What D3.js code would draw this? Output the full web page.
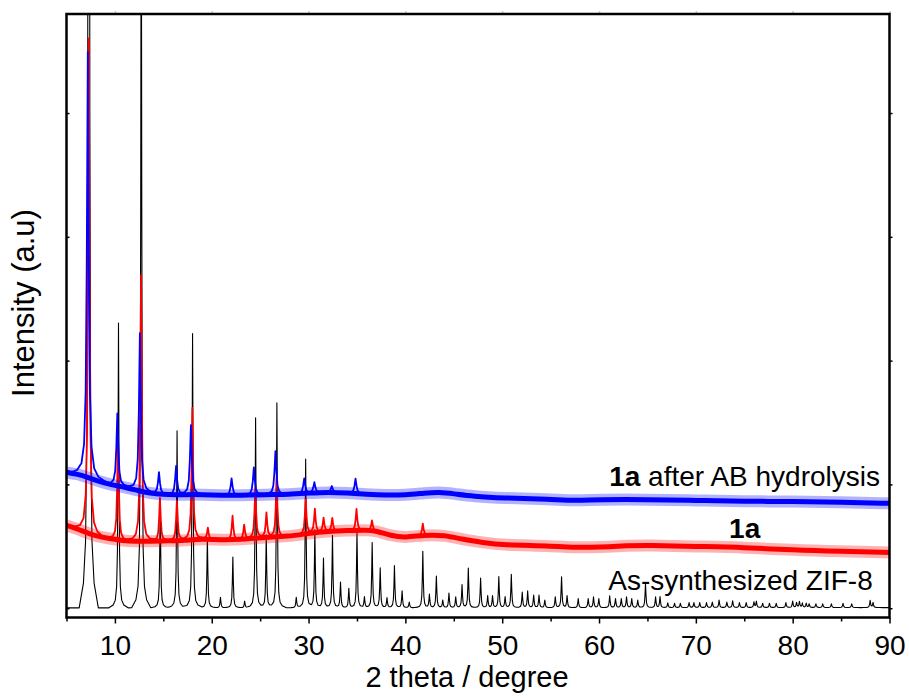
<!DOCTYPE html>
<html>
<head>
<meta charset="utf-8">
<script src="https://cdn.jsdelivr.net/npm/d3@7"></script>
<style>
  body { margin: 0; background: #fff; }
  text { font-family: Arial, "Liberation Sans", sans-serif; fill: #000; }
</style>
</head>
<body>
<div id="chart"></div>
<script>
// axis values
var xTicks = [10, 20, 30, 40, 50, 60, 70, 80, 90];
var xMinorTicks = [5, 15, 25, 35, 45, 55, 65, 75, 85];
var yTicks = [0, 1000, 2000, 3000, 4000];

// As-synthesized ZIF-8 : flat baseline + [2theta, height]
var zifBase = [[5, 3], [90, 5]];
var zifPeaks = [
  [7.30, 20000], [10.37, 2300], [12.72, 6500], [14.68, 870], [16.42, 1430],
  [18.02, 2215], [19.55, 565], [20.90, 85], [22.18, 410], [23.40, 55],
  [24.53, 1535], [25.63, 590], [26.73, 1655], [28.73, 85], [29.70, 1200],
  [30.65, 630], [31.54, 400], [32.47, 585], [33.30, 205], [34.16, 155],
  [35.00, 615], [35.77, 85], [36.57, 525], [37.40, 320], [38.10, 78],
  [38.87, 340], [39.66, 135], [40.40, 45], [41.80, 455], [42.48, 105],
  [43.20, 255], [43.86, 60], [44.50, 118], [45.20, 86], [45.85, 185],
  [46.50, 320], [47.77, 240], [48.50, 95], [49.00, 95], [49.65, 250],
  [50.30, 86], [50.94, 270], [52.07, 125], [52.63, 135], [53.25, 100],
  [53.80, 100], [54.40, 60], [55.48, 86], [56.13, 248], [56.70, 95],
  [57.85, 73], [58.88, 73], [59.43, 86], [59.98, 73], [61.10, 95],
  [61.70, 73], [62.30, 73], [62.84, 86], [63.38, 73], [64.00, 60],
  [64.80, 195], [65.84, 86], [66.30, 88], [67.10, 38], [67.80, 35],
  [68.40, 35], [69.30, 40], [69.80, 40], [70.40, 40], [71.10, 40],
  [71.70, 45], [72.40, 60], [73.20, 45], [73.80, 55], [74.50, 40],
  [75.20, 40], [76.00, 45], [76.25, 50], [76.90, 35], [77.60, 35],
  [78.30, 35], [79.30, 40], [80.00, 52], [80.40, 40], [80.70, 48],
  [81.00, 35], [81.40, 35], [81.70, 30], [82.40, 30], [83.10, 30],
  [84.00, 30], [85.20, 35], [86.10, 30], [88.00, 57], [88.30, 40]
];

// 1a : background curve + peaks
var aBase = [
  [5, 669], [6, 645], [8, 580], [9.5, 564], [10.8, 545], [12.2, 540],
  [13.5, 540], [15.5, 545], [17.2, 548], [19, 560], [21, 552], [23, 556],
  [25, 570], [28, 580], [30, 605], [32, 622], [34, 628], [36, 632],
  [37, 625], [38.5, 585], [40, 570], [42, 592], [44, 590], [46, 555],
  [48, 531], [50, 510], [55, 505], [57.5, 490], [60, 493], [63, 505],
  [65, 510], [70, 499], [75, 491], [80, 470], [85, 459], [90, 451]
];
var aPeaks = [
  [7.30, 4000], [10.32, 845], [12.70, 2150], [14.65, 348], [16.40, 323],
  [18.00, 1064], [19.60, 93], [22.15, 192], [23.35, 113], [24.50, 403],
  [25.65, 196], [26.70, 477], [29.70, 283], [30.65, 190], [31.55, 110],
  [32.45, 105], [34.95, 172], [36.55, 81], [41.80, 94]
];

// 1a after AB hydrolysis : background curve + peaks
var abBase = [
  [5, 1098], [5.8, 1085], [6.4, 1080], [8, 1033], [9.5, 1000], [10, 993],
  [11.5, 968], [12.3, 952], [13.5, 930], [15.5, 915], [17.5, 918],
  [19, 918], [21, 912], [23, 912], [25.5, 918], [28, 920], [30, 930],
  [32, 938], [34, 932], [36, 920], [38, 912], [40, 915], [42, 930],
  [43.5, 938], [45, 925], [47, 904], [50, 890], [55, 880], [57.5, 868],
  [60, 878], [65, 878], [70, 871], [75, 863], [80, 863], [85, 855], [90, 847]
];
var abPeaks = [
  [7.20, 3438], [10.25, 585], [12.58, 1275], [14.55, 176], [16.32, 230],
  [17.85, 560], [22.05, 137], [24.35, 223], [26.58, 350], [29.55, 120],
  [30.60, 85], [32.40, 50], [34.85, 120]
];

var width = 909, height = 699;
var margin = {left: 66.5, top: 14, right: 19.5, bottom: 81.5};

var x = d3.scaleLinear().domain([5, 90]).range([margin.left, width - margin.right]);
var y = d3.scaleLinear().domain([-75, 4800]).range([height - margin.bottom, margin.top]);

// peak outline (lorentz-like), offsets in units of the series width
var steps = [0, 1, 2, 3.5, 6, 10, 18];
var shape = [1, 0.5, 0.2, 0.075, 0.027, 0.01, 0];

function buildTrace(base, peaks, w) {
  var baseAt = d3.scaleLinear().domain(base.map(function(d){ return d[0]; }))
    .range(base.map(function(d){ return d[1]; })).clamp(true);
  var peakAt = d3.scaleLinear().domain(steps.map(function(s){ return s * w; }))
    .range(shape).clamp(true);
  var xs = base.map(function(d){ return d[0]; });
  peaks.forEach(function(p){
    steps.forEach(function(s){ xs.push(p[0] - s * w, p[0] + s * w); });
  });
  xs = Array.from(new Set(xs.filter(function(v){ return v >= 5 && v <= 90; })))
    .sort(d3.ascending);
  return xs.map(function(v){
    var sum = baseAt(v);
    peaks.forEach(function(p){ sum += p[1] * peakAt(Math.abs(v - p[0])); });
    return [v, sum];
  });
}

var svg = d3.select("#chart").append("svg")
  .attr("width", width)
  .attr("height", height);

svg.append("clipPath").attr("id", "plot-clip")
  .append("rect")
  .attr("x", margin.left).attr("y", margin.top)
  .attr("width", x(90) - x(5)).attr("height", y(-75) - y(4800));

var line = d3.line()
  .x(function(d){ return x(d[0]); })
  .y(function(d){ return y(d[1]); });

var smooth = d3.line()
  .curve(d3.curveBasis)
  .x(function(d){ return x(d[0]); })
  .y(function(d){ return y(d[1]); });

var plot = svg.append("g").attr("clip-path", "url(#plot-clip)");

var series = [
  {base: zifBase, peaks: zifPeaks, w: 0.055, color: "#000000", noisy: false, lw: 1.1},
  {base: aBase, peaks: aPeaks, w: 0.09, color: "#ff0000", noisy: true, lw: 1.8},
  {base: abBase, peaks: abPeaks, w: 0.11, color: "#0000ff", noisy: true, lw: 1.8}
];

series.forEach(function(s){
  // noisy background: faint wide band with a denser core
  if (s.noisy) {
    plot.append("path")
      .attr("d", smooth(s.base))
      .attr("fill", "none")
      .attr("stroke", s.color)
      .attr("stroke-opacity", 0.3)
      .attr("stroke-width", 12);
    plot.append("path")
      .attr("d", smooth(s.base))
      .attr("fill", "none")
      .attr("stroke", s.color)
      .attr("stroke-width", 5);
  }
  plot.append("path")
    .attr("d", line(buildTrace(s.base, s.peaks, s.w)))
    .attr("fill", "none")
    .attr("stroke", s.color)
    .attr("stroke-width", s.lw)
    .attr("stroke-linejoin", "round");
});

// axes
var bottom = height - margin.bottom;
svg.append("g")
  .attr("transform", "translate(0," + bottom + ")")
  .call(d3.axisBottom(x).tickValues(xMinorTicks).tickSize(4).tickFormat(""))
  .call(function(g){ g.select(".domain").remove(); });

svg.append("g")
  .attr("class", "xaxis")
  .attr("transform", "translate(0," + bottom + ")")
  .call(d3.axisBottom(x).tickValues(xTicks).tickSize(6).tickPadding(12))
  .call(function(g){ g.select(".domain").remove(); })
  .selectAll("text")
  .style("font-size", "28px");

svg.append("g")
  .attr("transform", "translate(0," + margin.top + ")")
  .call(d3.axisTop(x).tickValues(xTicks).tickSize(3).tickFormat(""))
  .call(function(g){ g.select(".domain").remove(); g.selectAll("line").attr("stroke", "#ccc"); });

svg.append("g")
  .attr("transform", "translate(" + margin.left + ",0)")
  .call(d3.axisLeft(y).tickValues(yTicks).tickSize(-3).tickFormat(""))
  .call(function(g){ g.select(".domain").remove(); });

svg.append("g")
  .attr("transform", "translate(" + x(90) + ",0)")
  .call(d3.axisRight(y).tickValues(yTicks).tickSize(3).tickFormat(""))
  .call(function(g){ g.select(".domain").remove(); });

svg.selectAll(".tick line").attr("stroke-width", 1.5);

// frame
svg.append("rect")
  .attr("x", margin.left).attr("y", margin.top)
  .attr("width", x(90) - x(5)).attr("height", bottom - margin.top)
  .attr("fill", "none")
  .attr("stroke", "#000")
  .attr("stroke-width", 2.5);

// titles
svg.append("text")
  .attr("x", 467).attr("y", 687)
  .attr("text-anchor", "middle")
  .style("font-size", "29px")
  .text("2 theta / degree");

svg.append("text")
  .attr("transform", "translate(34,303) rotate(-90)")
  .attr("text-anchor", "middle")
  .style("font-size", "31px")
  .text("Intensity (a.u)");

// trace labels
var labels = [
  {at: [61.05, 985], parts: [["1a", "bold"], [" after AB hydrolysis", "normal"]]},
  {at: [73.43, 564], parts: [["1a", "bold"]]},
  {at: [60.95, 151], parts: [["As-synthesized ZIF-8", "normal"]]}
];

labels.forEach(function(l){
  var t = svg.append("text")
    .attr("x", x(l.at[0]))
    .attr("y", y(l.at[1]))
    .style("font-size", "28px");
  l.parts.forEach(function(p){
    t.append("tspan").style("font-weight", p[1]).text(p[0]);
  });
});
</script>
</body>
</html>
